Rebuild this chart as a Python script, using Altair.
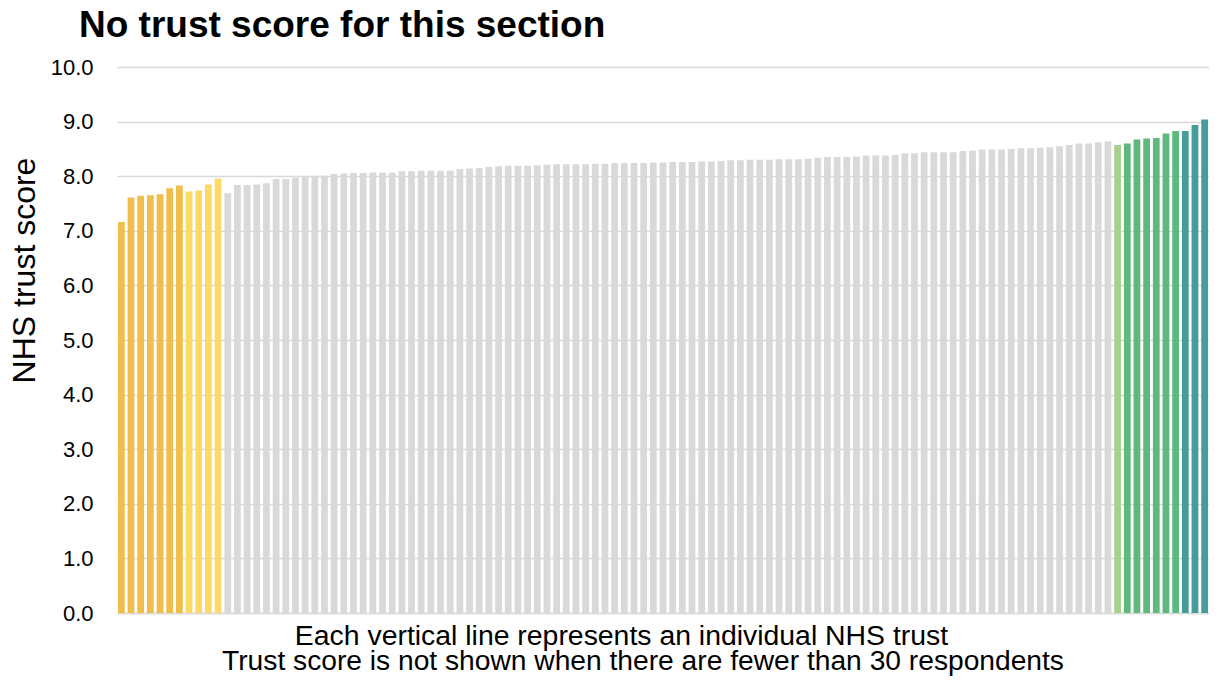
import altair as alt
import pandas as pd

# Trust scores, sorted as in the reference (one bar per NHS trust)
scores = [
    7.16, 7.61, 7.64, 7.65, 7.67, 7.78, 7.83, 7.72, 7.74, 7.85,
    7.96, 7.69, 7.84, 7.84, 7.85, 7.87, 7.95, 7.95, 7.97, 8.00,
    8.01, 8.01, 8.04, 8.05, 8.06, 8.06, 8.07, 8.07, 8.07, 8.09,
    8.09, 8.10, 8.10, 8.10, 8.10, 8.13, 8.14, 8.15, 8.17, 8.18,
    8.19, 8.19, 8.19, 8.20, 8.21, 8.22, 8.22, 8.22, 8.22, 8.23,
    8.23, 8.24, 8.24, 8.24, 8.24, 8.25, 8.25, 8.26, 8.26, 8.26,
    8.27, 8.27, 8.28, 8.29, 8.29, 8.30, 8.30, 8.30, 8.31, 8.31,
    8.31, 8.32, 8.34, 8.35, 8.35, 8.35, 8.36, 8.38, 8.38, 8.38,
    8.39, 8.42, 8.42, 8.44, 8.44, 8.44, 8.44, 8.46, 8.47, 8.49,
    8.49, 8.49, 8.50, 8.51, 8.51, 8.52, 8.53, 8.55, 8.57, 8.60,
    8.60, 8.62, 8.64, 8.57, 8.60, 8.67, 8.69, 8.70, 8.78, 8.83,
    8.83, 8.94, 9.04,
]

# Colour bands, in order, and how many trusts fall in each
band_names = ["low", "low2", "mid", "high1", "high2", "top"]
band_counts = [7, 4, 92, 1, 6, 3]
band_colors = ["#F0BE4A", "#FFD966", "#D9D9D9", "#A9D18E", "#5FB97F", "#469B9B"]

y_ticks = [0, 1, 2, 3, 4, 5, 6, 7, 8, 9, 10]

title_text = "No trust score for this section"
y_title = "NHS trust score"
x_title = "Each vertical line represents an individual NHS trust"
caption = "Trust score is not shown when there are fewer than 30 respondents"

bands = []
for name, n in zip(band_names, band_counts):
    bands += [name] * n

df = pd.DataFrame({
    "trust": list(range(1, len(scores) + 1)),
    "score": scores,
    "band": bands,
})

FONT = "Liberation Sans"

bars = alt.Chart(df).mark_bar().encode(
    x=alt.X(
        "trust:O",
        sort=None,
        scale=alt.Scale(paddingInner=0.3, paddingOuter=0.1),
        axis=alt.Axis(
            title=x_title,
            labels=False,
            ticks=False,
            domain=True,
            domainColor="#D9D9D9",
            domainWidth=1.5,
            titleFont=FONT,
            titleFontSize=28.4,
            titleFontWeight="normal",
            titleColor="#000000",
            titleX=504,
            titleY=22,
            titleAlign="center",
            titleBaseline="middle",
        ),
    ),
    y=alt.Y(
        "score:Q",
        scale=alt.Scale(domain=[0, 10], nice=False),
        axis=alt.Axis(
            title=y_title,
            values=y_ticks,
            format=".1f",
            ticks=False,
            domain=False,
            grid=True,
            gridColor="#D9D9D9",
            gridWidth=1.5,
            labelFont=FONT,
            labelFontSize=22,
            labelColor="#000000",
            labelPadding=24,
            titleFont=FONT,
            titleFontSize=32,
            titleFontWeight="normal",
            titleColor="#000000",
            titleAngle=-90,
            titleX=-93,
            titleY=203,
            titleAlign="center",
            titleBaseline="middle",
        ),
    ),
    color=alt.Color(
        "band:N",
        scale=alt.Scale(domain=band_names, range=band_colors),
        legend=None,
    ),
)

cap = alt.Chart(pd.DataFrame({"text": [caption]})).mark_text(
    font=FONT, fontSize=28.2, color="#000000", align="center", baseline="middle"
).encode(
    text="text:N",
    x=alt.value(526),
    y=alt.value(595),
)

head = alt.Chart(pd.DataFrame({"text": [title_text]})).mark_text(
    font=FONT, fontSize=37, fontWeight="bold", color="#000000",
    align="left", baseline="alphabetic"
).encode(
    text="text:N",
    x=alt.value(-38),
    y=alt.value(-30),
)

chart = alt.layer(bars, cap, head).properties(
    width=1092,
    height=546,
    padding={"left": 109, "top": 59, "right": 0, "bottom": 64},
    autosize=alt.AutoSizeParams(type="none"),
).configure_view(stroke=None)

chart.save("out.html", embed_options={"renderer": "svg", "actions": False})
